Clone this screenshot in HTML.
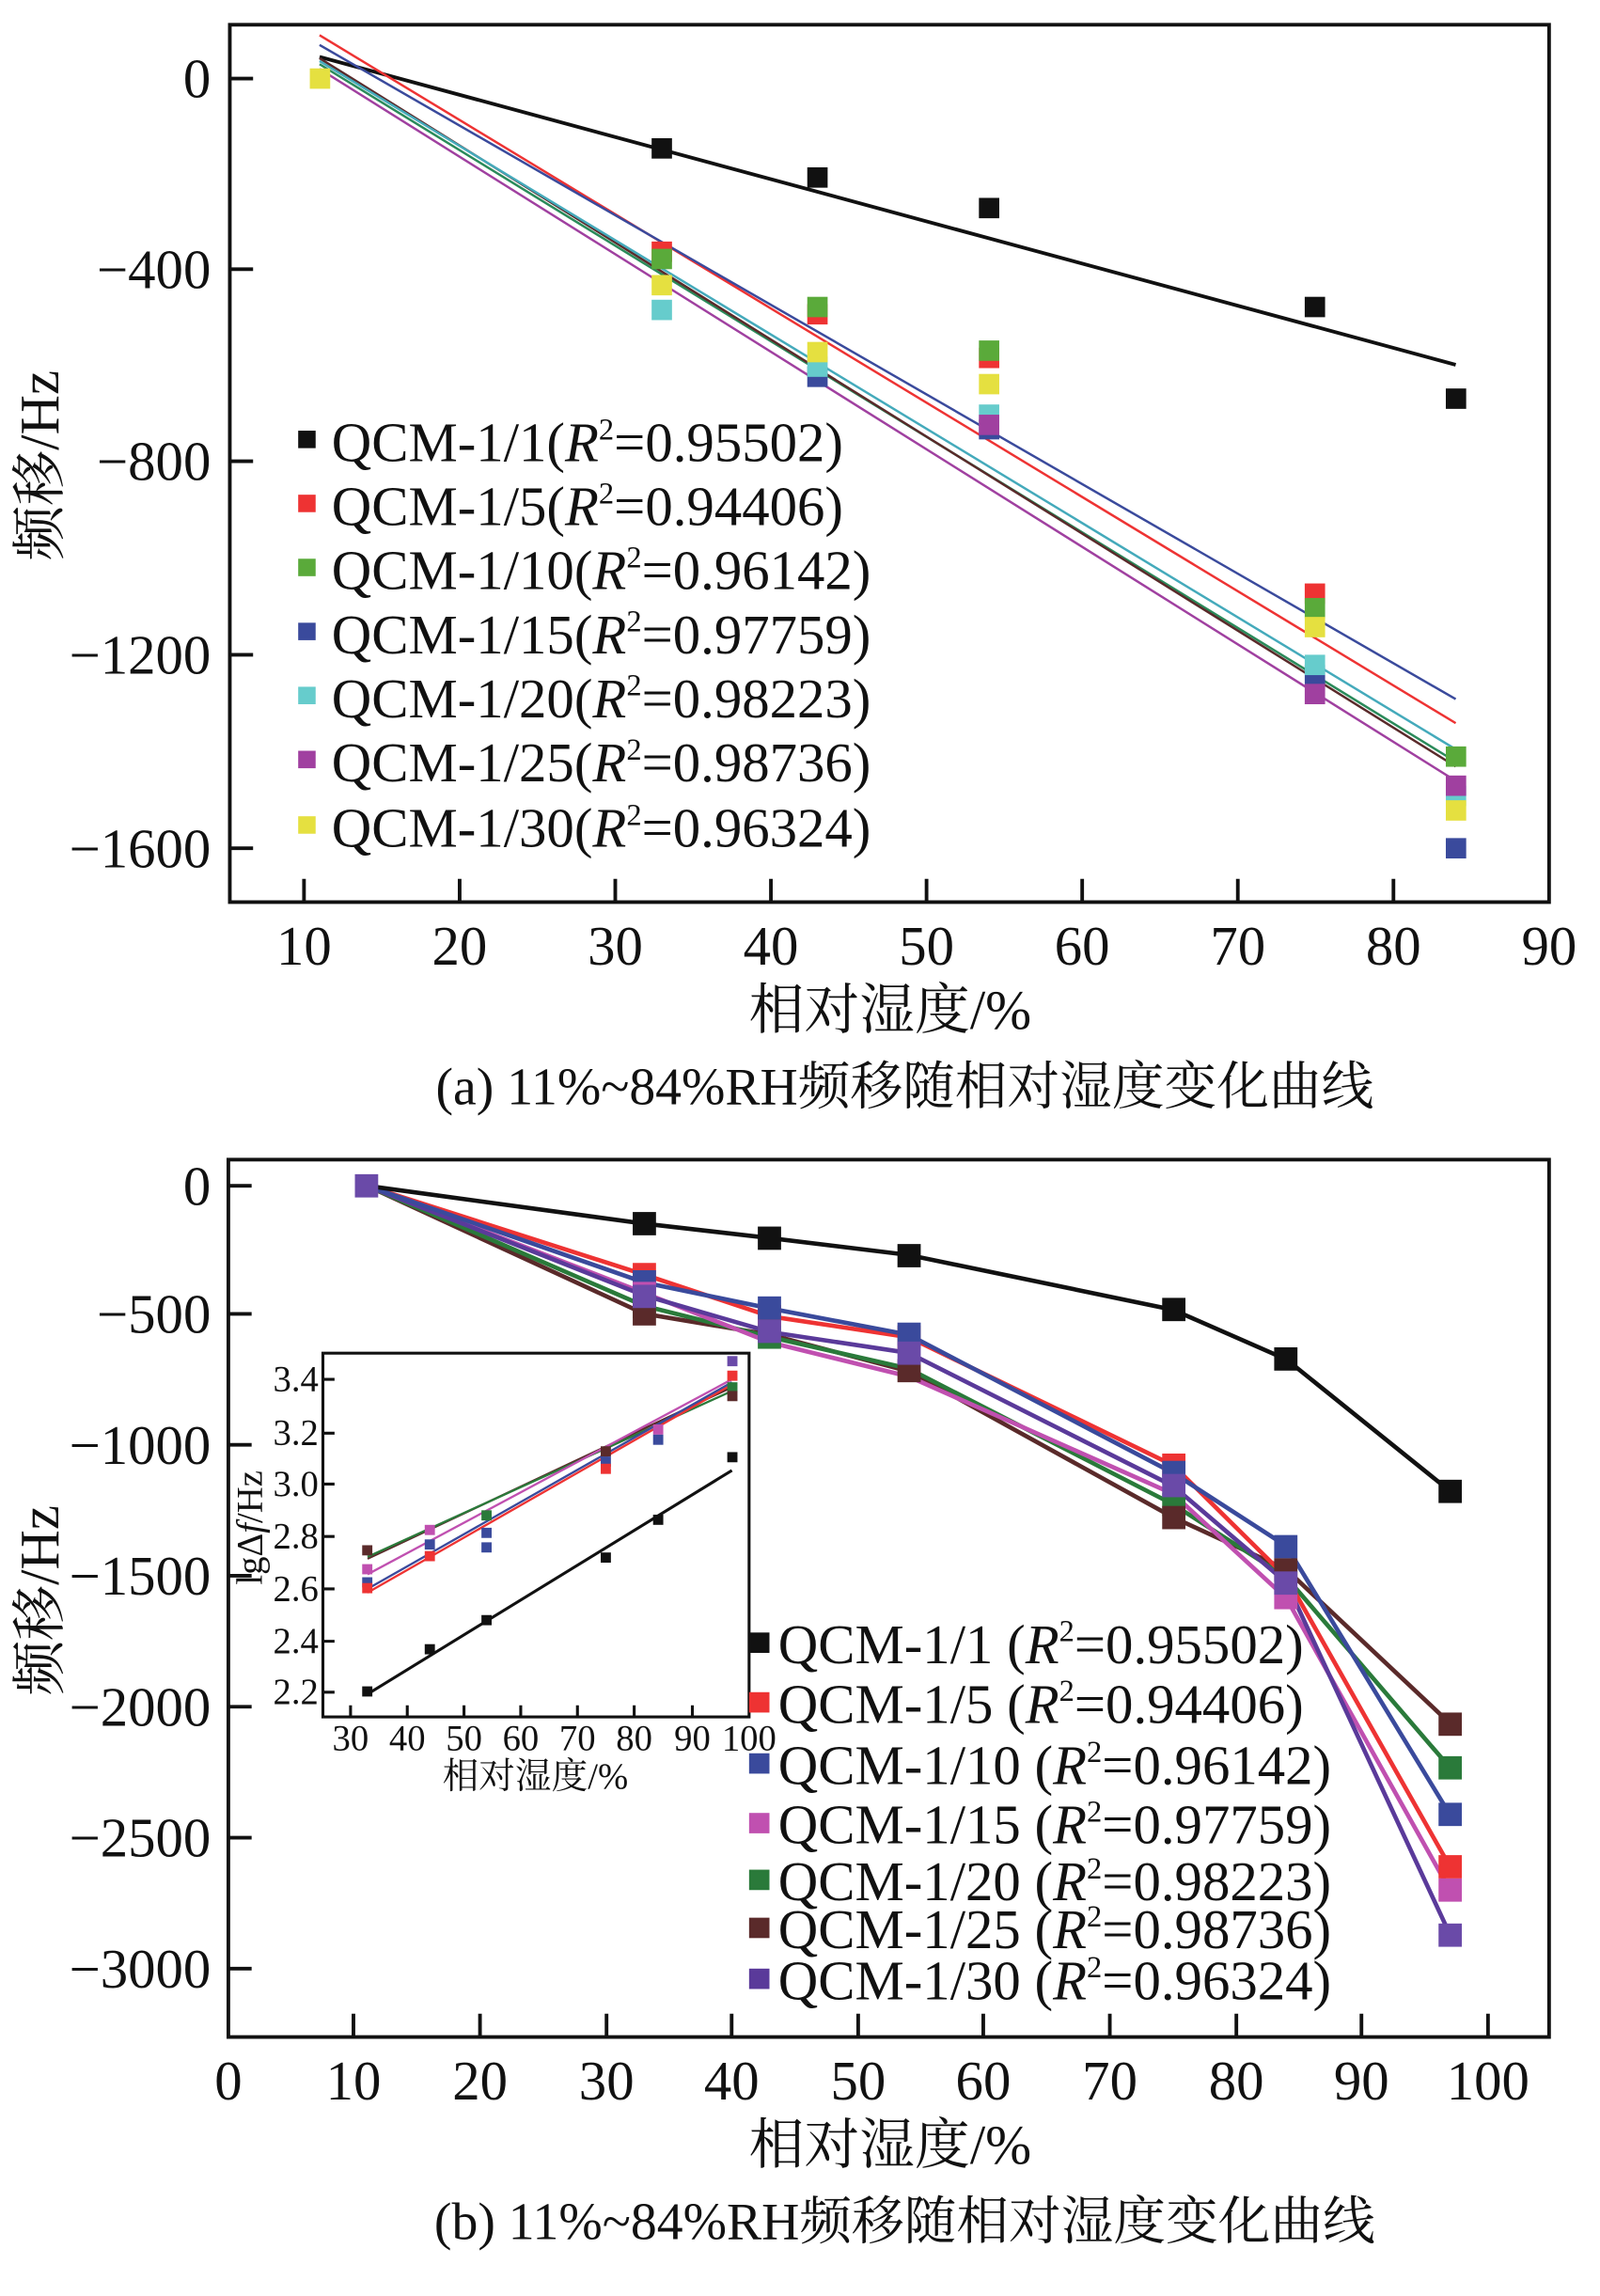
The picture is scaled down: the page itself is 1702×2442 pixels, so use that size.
<!DOCTYPE html>
<html><head><meta charset="utf-8"><style>html,body{margin:0;padding:0;background:#fff}svg{display:block}</style></head>
<body>
<svg width="1702" height="2442" viewBox="0 0 1100 1578" preserveAspectRatio="none" xmlns="http://www.w3.org/2000/svg" font-family="'Liberation Serif','Noto Serif CJK SC',serif">
<rect width="1100" height="1578" fill="#fff"/>
<!-- ===== Plot A ===== -->
<g stroke="#111" stroke-width="2.5" fill="none">
<rect x="158" y="17" width="907" height="603"/>
<path d="M209 620v-16M316 620v-16M423 620v-16M530 620v-16M637 620v-16M744 620v-16M851 620v-16M958 620v-16M158 54h16M158 185h16M158 317h16M158 450h16M158 583h16"/>
</g>
<g font-size="38" fill="#111" text-anchor="middle">
<text x="209" y="663">10</text><text x="316" y="663">20</text><text x="423" y="663">30</text><text x="530" y="663">40</text><text x="637" y="663">50</text><text x="744" y="663">60</text><text x="851" y="663">70</text><text x="958" y="663">80</text><text x="1065" y="663">90</text>
</g>
<g font-size="38" fill="#111" text-anchor="end">
<text x="145" y="67">0</text><text x="145" y="198">−400</text><text x="145" y="330">−800</text><text x="145" y="463">−1200</text><text x="145" y="596">−1600</text>
</g>
<text x="612" y="707" font-size="38" text-anchor="middle" fill="#111">相对湿度/%</text>
<text transform="translate(40,320) rotate(-90)" font-size="38" text-anchor="middle" fill="#111">频移/Hz</text>
<text x="622" y="759" font-size="36" text-anchor="middle" fill="#111">(a) 11%~84%RH频移随相对湿度变化曲线</text>
<g fill="none" stroke-width="1.6">
<line x1="219.7" y1="39.1" x2="1000.8" y2="250.7" stroke="#111" stroke-width="2.5"/>
<line x1="219.7" y1="24.2" x2="1000.8" y2="497" stroke="#e33"/>
<line x1="219.7" y1="30.9" x2="1000.8" y2="480.5" stroke="#3a4a9c"/>
<line x1="219.7" y1="44.1" x2="1000.8" y2="523.5" stroke="#2a8a5a"/>
<line x1="219.7" y1="40" x2="1000.8" y2="526.8" stroke="#5a2a2a"/>
<line x1="219.7" y1="47.4" x2="1000.8" y2="536.7" stroke="#a040a0"/>
<line x1="219.7" y1="42" x2="1000.8" y2="515" stroke="#4ab"/>
</g>
<g>
<rect x="213" y="47" width="14" height="14" fill="#e5e040"/>
<g fill="#111"><rect x="448" y="95" width="14" height="14"/><rect x="555" y="115" width="14" height="14"/><rect x="673" y="136" width="14" height="14"/><rect x="897" y="204" width="14" height="14"/><rect x="994" y="267" width="14" height="14"/></g>
<rect x="448" y="166" width="14" height="14" fill="#e33"/><rect x="448" y="171" width="14" height="14" fill="#5aaa3a"/><rect x="448" y="189" width="14" height="14" fill="#e5e040"/><rect x="448" y="206" width="14" height="14" fill="#6cc"/>
<rect x="555" y="209" width="14" height="14" fill="#e33"/><rect x="555" y="204" width="14" height="14" fill="#5aaa3a"/><rect x="555" y="252" width="14" height="14" fill="#3a4a9c"/><rect x="555" y="245" width="14" height="14" fill="#6cc"/><rect x="555" y="235" width="14" height="14" fill="#e5e040"/>
<rect x="673" y="239" width="14" height="14" fill="#e33"/><rect x="673" y="234" width="14" height="14" fill="#5aaa3a"/><rect x="673" y="257" width="14" height="14" fill="#e5e040"/><rect x="673" y="288" width="14" height="14" fill="#3a4a9c"/><rect x="673" y="278" width="14" height="14" fill="#6cc"/><rect x="673" y="285" width="14" height="14" fill="#a040a0"/>
<rect x="897" y="401" width="14" height="14" fill="#e33"/><rect x="897" y="411" width="14" height="14" fill="#5aaa3a"/><rect x="897" y="424" width="14" height="14" fill="#e5e040"/><rect x="897" y="457" width="14" height="14" fill="#3a4a9c"/><rect x="897" y="450" width="14" height="14" fill="#6cc"/><rect x="897" y="470" width="14" height="14" fill="#a040a0"/>
<rect x="994" y="513" width="14" height="14" fill="#5aaa3a"/><rect x="994" y="540" width="14" height="14" fill="#6cc"/><rect x="994" y="533" width="14" height="14" fill="#a040a0"/><rect x="994" y="550" width="14" height="14" fill="#e5e040"/><rect x="994" y="576" width="14" height="14" fill="#3a4a9c"/>
</g>
<g font-size="38" fill="#111">
<rect x="205" y="296" width="12" height="12" fill="#111"/><text x="228" y="317">QCM-1/1(<tspan font-style="italic">R</tspan><tspan font-size="21" dy="-15">2</tspan><tspan dy="15">=0.95502)</tspan></text>
<rect x="205" y="340" width="12" height="12" fill="#e33"/><text x="228" y="361">QCM-1/5(<tspan font-style="italic">R</tspan><tspan font-size="21" dy="-15">2</tspan><tspan dy="15">=0.94406)</tspan></text>
<rect x="205" y="384" width="12" height="12" fill="#5aaa3a"/><text x="228" y="405">QCM-1/10(<tspan font-style="italic">R</tspan><tspan font-size="21" dy="-15">2</tspan><tspan dy="15">=0.96142)</tspan></text>
<rect x="205" y="428" width="12" height="12" fill="#3a4a9c"/><text x="228" y="449">QCM-1/15(<tspan font-style="italic">R</tspan><tspan font-size="21" dy="-15">2</tspan><tspan dy="15">=0.97759)</tspan></text>
<rect x="205" y="472" width="12" height="12" fill="#6cc"/><text x="228" y="493">QCM-1/20(<tspan font-style="italic">R</tspan><tspan font-size="21" dy="-15">2</tspan><tspan dy="15">=0.98223)</tspan></text>
<rect x="205" y="516" width="12" height="12" fill="#a040a0"/><text x="228" y="537">QCM-1/25(<tspan font-style="italic">R</tspan><tspan font-size="21" dy="-15">2</tspan><tspan dy="15">=0.98736)</tspan></text>
<rect x="205" y="561" width="12" height="12" fill="#e5e040"/><text x="228" y="582">QCM-1/30(<tspan font-style="italic">R</tspan><tspan font-size="21" dy="-15">2</tspan><tspan dy="15">=0.96324)</tspan></text>
</g>

<!-- ===== Plot B ===== -->
<g stroke="#111" stroke-width="2.5" fill="none">
<rect x="157" y="797" width="908" height="603"/>
<path d="M243 1400v-16M330 1400v-16M417 1400v-16M503 1400v-16M590 1400v-16M676 1400v-16M763 1400v-16M850 1400v-16M936 1400v-16M1023 1400v-16M157 815h16M157 903h16M157 993h16M157 1083h16M157 1173h16M157 1263h16M157 1353h16"/>
</g>
<g font-size="38" fill="#111" text-anchor="middle">
<text x="157" y="1443">0</text><text x="243" y="1443">10</text><text x="330" y="1443">20</text><text x="417" y="1443">30</text><text x="503" y="1443">40</text><text x="590" y="1443">50</text><text x="676" y="1443">60</text><text x="763" y="1443">70</text><text x="850" y="1443">80</text><text x="936" y="1443">90</text><text x="1023" y="1443">100</text>
</g>
<g font-size="38" fill="#111" text-anchor="end">
<text x="145" y="828">0</text><text x="145" y="916">−500</text><text x="145" y="1006">−1000</text><text x="145" y="1096">−1500</text><text x="145" y="1186">−2000</text><text x="145" y="1276">−2500</text><text x="145" y="1366">−3000</text>
</g>
<text x="612" y="1487" font-size="38" text-anchor="middle" fill="#111">相对湿度/%</text>
<text transform="translate(40,1100) rotate(-90)" font-size="38" text-anchor="middle" fill="#111">频移/Hz</text>
<text x="622" y="1539" font-size="36" text-anchor="middle" fill="#111">(b) 11%~84%RH频移随相对湿度变化曲线</text>
<g fill="none" stroke-width="3">
<polyline stroke="#5a2a2a" points="252.3,815 442.8,902.9 529.4,917.3 624.6,942.4 806.5,1042.8 884.4,1078.7 997,1184.6"/>
<polyline stroke="#2a7a3a" points="252.3,815 442.8,897.5 529.4,919 624.6,940.6 806.5,1033.9 884.4,1084.1 997,1215.1"/>
<polyline stroke="#c050b0" points="252.3,815 442.8,888.6 529.4,922.6 624.6,946 806.5,1026.7 884.4,1098.5 997,1299.4"/>
<polyline stroke="#5a3a9a" points="252.3,815 442.8,890.3 529.4,915.5 624.6,929.8 806.5,1021.3 884.4,1087.7 997,1329.9"/>
<polyline stroke="#e33" points="252.3,815 442.8,876 529.4,904.7 624.6,919 806.5,1007 884.4,1084 997,1283.2"/>
<polyline stroke="#3a4a9c" points="252.3,815 442.8,881.4 529.4,899.3 624.6,917.3 806.5,1012.3 884.4,1062.6 997,1247.4"/>
<polyline stroke="#111" points="252.3,815 442.8,841 529.4,850.9 624.6,862.5 806.5,900.2 884.4,934.3 997,1024.9"/>
</g>
<g>
<g fill="#111"><rect x="435" y="833" width="16" height="16"/><rect x="521" y="843" width="16" height="16"/><rect x="617" y="855" width="16" height="16"/><rect x="799" y="892" width="16" height="16"/><rect x="876" y="926" width="16" height="16"/><rect x="989" y="1017" width="16" height="16"/></g>
<rect x="244" y="807" width="16" height="16" fill="#6a4aa8"/>
<rect x="435" y="868" width="16" height="16" fill="#e33"/><rect x="435" y="873" width="16" height="16" fill="#3a4a9c"/><rect x="435" y="881" width="16" height="16" fill="#c050b0"/><rect x="435" y="890" width="16" height="16" fill="#2a7a3a"/><rect x="435" y="895" width="16" height="16" fill="#5a2a2a"/><rect x="435" y="883" width="16" height="16" fill="#6a4aa8"/>
<rect x="521" y="897" width="16" height="16" fill="#e33"/><rect x="521" y="891" width="16" height="16" fill="#3a4a9c"/><rect x="521" y="911" width="16" height="16" fill="#2a7a3a"/><rect x="521" y="907" width="16" height="16" fill="#6a4aa8"/>
<rect x="617" y="911" width="16" height="16" fill="#e33"/><rect x="617" y="909" width="16" height="16" fill="#3a4a9c"/><rect x="617" y="934" width="16" height="16" fill="#5a2a2a"/><rect x="617" y="922" width="16" height="16" fill="#6a4aa8"/>
<rect x="799" y="999" width="16" height="16" fill="#e33"/><rect x="799" y="1004" width="16" height="16" fill="#3a4a9c"/><rect x="799" y="1026" width="16" height="16" fill="#2a7a3a"/><rect x="799" y="1035" width="16" height="16" fill="#5a2a2a"/><rect x="799" y="1013" width="16" height="16" fill="#6a4aa8"/>
<rect x="876" y="1055" width="16" height="16" fill="#3a4a9c"/><rect x="876" y="1090" width="16" height="16" fill="#c050b0"/><rect x="876" y="1071" width="16" height="16" fill="#5a2a2a"/><rect x="876" y="1080" width="16" height="16" fill="#6a4aa8"/>
<rect x="989" y="1177" width="16" height="16" fill="#5a2a2a"/><rect x="989" y="1207" width="16" height="16" fill="#2a7a3a"/><rect x="989" y="1239" width="16" height="16" fill="#3a4a9c"/><rect x="989" y="1275" width="16" height="16" fill="#e33"/><rect x="989" y="1291" width="16" height="16" fill="#c050b0"/><rect x="989" y="1322" width="16" height="16" fill="#6a4aa8"/>
</g>
<!-- inset -->
<rect x="222" y="930" width="293" height="250" fill="#fff" stroke="#111" stroke-width="2"/>
<g stroke="#111" stroke-width="2"><path d="M222 948h8M222 985h8M222 1020h8M222 1056h8M222 1092h8M222 1128h8M222 1163h8M241 1180v-8M280 1180v-8M319 1180v-8M358 1180v-8M397 1180v-8M436 1180v-8M476 1180v-8"/></g>
<g font-size="25" fill="#111" text-anchor="end">
<text x="219" y="956">3.4</text><text x="219" y="993">3.2</text><text x="219" y="1028">3.0</text><text x="219" y="1064">2.8</text><text x="219" y="1100">2.6</text><text x="219" y="1136">2.4</text><text x="219" y="1171">2.2</text>
</g>
<g font-size="25" fill="#111" text-anchor="middle">
<text x="241" y="1203">30</text><text x="280" y="1203">40</text><text x="319" y="1203">50</text><text x="358" y="1203">60</text><text x="397" y="1203">70</text><text x="436" y="1203">80</text><text x="476" y="1203">90</text><text x="515" y="1203">100</text>
</g>
<text x="368" y="1229" font-size="25" text-anchor="middle" fill="#111">相对湿度/%</text>
<text transform="translate(180,1050) rotate(-90)" font-size="25" text-anchor="middle" fill="#111">lgΔ<tspan font-style="italic">f</tspan>/Hz</text>
<g fill="none" stroke-width="1.5">
<line x1="252.7" y1="1164.3" x2="503.2" y2="1010.6" stroke="#111" stroke-width="2"/>
<line x1="252.7" y1="1071.3" x2="503.2" y2="953.4" stroke="#5a2a2a"/>
<line x1="252.7" y1="1070" x2="503.2" y2="956" stroke="#2a7a3a"/>
<line x1="252.7" y1="1082" x2="503.2" y2="948" stroke="#c050b0"/>
<line x1="252.7" y1="1094.6" x2="503.2" y2="951.6" stroke="#e33"/>
<line x1="252.7" y1="1092" x2="503.2" y2="950" stroke="#3a4a9c"/>
</g>
<g>
<g fill="#111"><rect x="249" y="1159" width="7" height="7"/><rect x="292" y="1130" width="7" height="7"/><rect x="331" y="1110" width="7" height="7"/><rect x="413" y="1067" width="7" height="7"/><rect x="449" y="1041" width="7" height="7"/><rect x="500" y="998" width="7" height="7"/></g>
<rect x="249" y="1062" width="7" height="7" fill="#5a2a2a"/><rect x="249" y="1075" width="7" height="7" fill="#c050b0"/><rect x="249" y="1084" width="7" height="7" fill="#3a4a9c"/><rect x="249" y="1088" width="7" height="7" fill="#e33"/>
<rect x="292" y="1048" width="7" height="7" fill="#c050b0"/><rect x="292" y="1058" width="7" height="7" fill="#3a4a9c"/><rect x="292" y="1066" width="7" height="7" fill="#e33"/>
<rect x="331" y="1038" width="7" height="7" fill="#2a7a3a"/><rect x="331" y="1050" width="7" height="7" fill="#3a4a9c"/><rect x="331" y="1060" width="7" height="7" fill="#3a4a9c"/>
<rect x="413" y="994" width="7" height="7" fill="#5a2a2a"/><rect x="413" y="1001" width="7" height="7" fill="#3a4a9c"/><rect x="413" y="1006" width="7" height="7" fill="#e33"/>
<rect x="449" y="979" width="7" height="7" fill="#c050b0"/><rect x="449" y="986" width="7" height="7" fill="#3a4a9c"/>
<rect x="500" y="932" width="7" height="7" fill="#6a4aa8"/><rect x="500" y="942" width="7" height="7" fill="#e33"/><rect x="500" y="950" width="7" height="7" fill="#2a7a3a"/><rect x="500" y="956" width="7" height="7" fill="#5a2a2a"/>
</g>
<g font-size="38" fill="#111">
<rect x="515" y="1122" width="14" height="14" fill="#111"/><text x="535" y="1143">QCM-1/1 (<tspan font-style="italic">R</tspan><tspan font-size="21" dy="-15">2</tspan><tspan dy="15">=0.95502)</tspan></text>
<rect x="515" y="1163" width="14" height="14" fill="#e33"/><text x="535" y="1184">QCM-1/5 (<tspan font-style="italic">R</tspan><tspan font-size="21" dy="-15">2</tspan><tspan dy="15">=0.94406)</tspan></text>
<rect x="515" y="1205" width="14" height="14" fill="#3a4a9c"/><text x="535" y="1226">QCM-1/10 (<tspan font-style="italic">R</tspan><tspan font-size="21" dy="-15">2</tspan><tspan dy="15">=0.96142)</tspan></text>
<rect x="515" y="1246" width="14" height="14" fill="#c050b0"/><text x="535" y="1267">QCM-1/15 (<tspan font-style="italic">R</tspan><tspan font-size="21" dy="-15">2</tspan><tspan dy="15">=0.97759)</tspan></text>
<rect x="515" y="1285" width="14" height="14" fill="#2a7a3a"/><text x="535" y="1306">QCM-1/20 (<tspan font-style="italic">R</tspan><tspan font-size="21" dy="-15">2</tspan><tspan dy="15">=0.98223)</tspan></text>
<rect x="515" y="1318" width="14" height="14" fill="#5a2a2a"/><text x="535" y="1339">QCM-1/25 (<tspan font-style="italic">R</tspan><tspan font-size="21" dy="-15">2</tspan><tspan dy="15">=0.98736)</tspan></text>
<rect x="515" y="1353" width="14" height="14" fill="#5a3a9a"/><text x="535" y="1374">QCM-1/30 (<tspan font-style="italic">R</tspan><tspan font-size="21" dy="-15">2</tspan><tspan dy="15">=0.96324)</tspan></text>
</g>
</svg>
</body></html>
